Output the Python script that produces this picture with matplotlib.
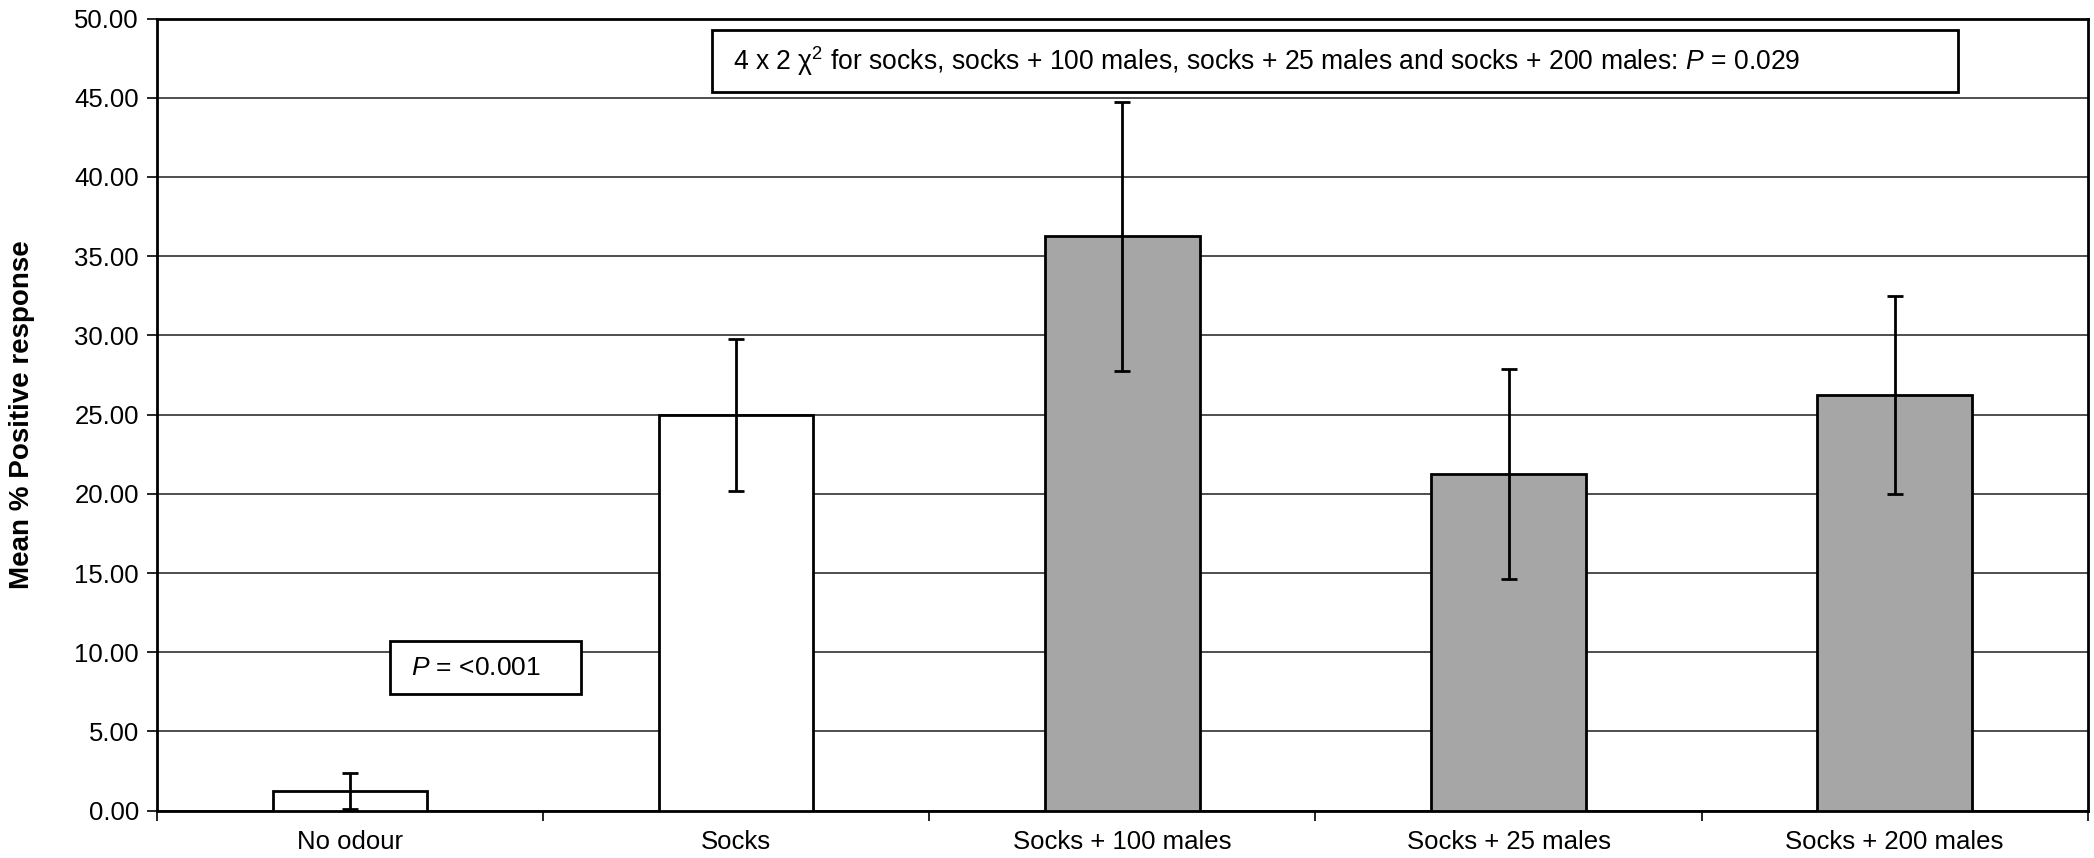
import matplotlib
matplotlib.use("Agg")
import matplotlib.pyplot as plt
import numpy as np

categories = ["No odour", "Socks", "Socks + 100 males", "Socks + 25 males", "Socks + 200 males"]
means = [1.25, 25.0, 36.25, 21.25, 26.25]
errors = [1.15, 4.8, 8.5, 6.6, 6.25]
bar_colors = ["white", "white", "#a6a6a6", "#a6a6a6", "#a6a6a6"]
y_ticks = [0, 5, 10, 15, 20, 25, 30, 35, 40, 45, 50]

plt.rcParams['font.family'] = ['Liberation Sans', 'DejaVu Sans']
plt.rcParams['mathtext.fontset'] = 'custom'
plt.rcParams['mathtext.rm'] = 'Liberation Sans'
plt.rcParams['mathtext.it'] = 'Liberation Sans:italic'

fig = plt.figure(figsize=(20.94, 8.58), dpi=100)
ax = fig.add_axes([0.075, 0.0552, 0.922, 0.9232])

x = np.arange(len(categories))
ax.bar(x, means, width=0.40, color=bar_colors, edgecolor="black", linewidth=2.0, zorder=3)
ax.errorbar(x, means, yerr=errors, fmt="none", ecolor="black", elinewidth=2.0,
            capsize=6, capthick=2.0, zorder=4)

ax.set_xlim(-0.5, len(categories) - 0.5)
ax.set_ylim(0, 50)
ax.set_yticks(y_ticks)
ax.set_yticklabels([f"{v:.2f}" for v in y_ticks], fontsize=18.5)
ax.yaxis.grid(True, color="#303030", linewidth=1.2, zorder=0)
ax.set_axisbelow(True)

ax.set_xticks(x)
ax.set_xticklabels(categories, fontsize=18.5)
ax.tick_params(axis="x", length=0, pad=14)
ax.set_xticks(np.arange(len(categories) + 1) - 0.5, minor=True)
ax.tick_params(axis="x", which="minor", length=7, width=1.2, direction="out")
ax.tick_params(axis="y", length=7, width=1.2, direction="out", pad=6)

for s in ax.spines.values():
    s.set_linewidth(2.0)
    s.set_color("black")

ax.set_ylabel("Mean % Positive response", fontsize=20, fontweight="bold",
              family=['Liberation Sans Narrow', 'Liberation Sans'], labelpad=28)

# Top annotation box
bx0, by0 = (712 - 157) / (2088 - 157), (810.6 - 92) / (810.6 - 18.5)
bw, bh = (1958 - 712) / (2088 - 157), (92 - 30) / (810.6 - 18.5)
ax.add_patch(plt.Rectangle((bx0, by0), bw, bh, transform=ax.transAxes, facecolor="white",
                           edgecolor="black", linewidth=2.0, zorder=5))
ax.text(bx0 + 0.011, by0 + bh / 2,
        r"4 x 2 $\mathrm{\chi}^{2}$ for socks, socks + 100 males, socks + 25 males and socks + 200 males: $P$ = 0.029",
        transform=ax.transAxes, fontsize=19.1, va="center", ha="left",
        family=['Liberation Sans Narrow', 'Liberation Sans'], zorder=6)

# P box
px0, py0 = (390 - 157) / (2088 - 157), (810.6 - 694) / (810.6 - 18.5)
pw, ph = (581 - 390) / (2088 - 157), (694 - 641) / (810.6 - 18.5)
ax.add_patch(plt.Rectangle((px0, py0), pw, ph, transform=ax.transAxes, facecolor="white",
                           edgecolor="black", linewidth=2.0, zorder=5))
ax.text(px0 + 0.011, py0 + ph / 2, r"$P$ = <0.001", transform=ax.transAxes, fontsize=19,
        va="center", ha="left", zorder=6)

fig.savefig("out.png", dpi=100)
